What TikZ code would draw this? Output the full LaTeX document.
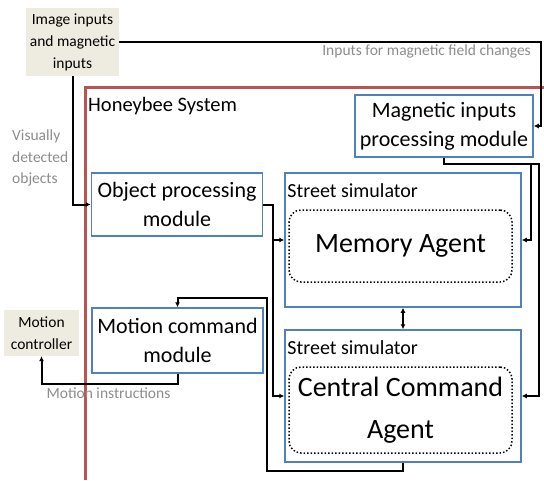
\documentclass[tikz,border=0pt]{standalone}
\usepackage{fontspec}
\setmainfont{Carlito}
\usepackage{tikz}
\usetikzlibrary{arrows.meta}
\definecolor{boxblue}{RGB}{79,129,189}
\definecolor{framered}{RGB}{185,84,82}
\definecolor{beige}{RGB}{238,236,225}
\definecolor{labelgray}{RGB}{140,140,140}

\begin{document}
\begin{tikzpicture}[x=1pt,y=-1pt,>={Latex[length=5pt,width=5pt]},
module/.style={draw=boxblue, line width=1.5pt, fill=white, align=center, inner sep=0pt, font=\fontsize{22}{29}\selectfont},
extern/.style={fill=beige, align=center, inner sep=0pt, font=\fontsize{15.5}{22}\selectfont},
agent/.style={draw, dotted, line width=1.5pt, rounded corners=12pt, align=center, inner sep=0pt, font=\fontsize{28}{42}\selectfont},
simlabel/.style={anchor=base west, inner sep=0pt, font=\fontsize{20}{20}\selectfont},
note/.style={text=labelgray, inner sep=0pt, font=\fontsize{15.5}{21.5}\selectfont},
conn/.style={line width=2pt, ->},
frame/.style={draw=framered, line width=3pt}]
\useasboundingbox (0,0) rectangle (544,480);

\draw[frame] (85,480) -- (85,87) -- (544,87);
\node[anchor=base west, inner sep=0pt, font=\fontsize{20.5}{20.5}\selectfont] (system) at (88,111) {Honeybee System};

\node[extern, minimum width=93pt, minimum height=68pt] (src) at (72.5,42) {Image inputs\\and magnetic\\inputs};
\node[extern, minimum width=75pt, minimum height=46pt] (ctrl) at (41.5,333) {Motion\\controller};

\node[module, minimum width=171pt, minimum height=63pt] (objproc) at (177,204.5) {Object processing\\module};
\node[module, minimum width=178pt, minimum height=62pt] (magproc) at (444,126) {Magnetic inputs\\processing module};
\node[module, minimum width=171pt, minimum height=65pt] (motion) at (177.5,340.5) {Motion command\\module};

\node[module, minimum width=236pt, minimum height=134pt] (memsim) at (403,240) {};
\node[simlabel] (memlbl) at ([xshift=3pt,yshift=-25pt]memsim.north west) {Street simulator};
\node[agent, minimum width=223pt, minimum height=72pt] (memory) at (400.5,246) {Memory Agent};

\node[module, minimum width=236pt, minimum height=132pt] (cmdsim) at (403,396) {};
\node[simlabel] (cmdlbl) at ([xshift=3pt,yshift=-25pt]cmdsim.north west) {Street simulator};
\node[agent, minimum width=223pt, minimum height=86pt] (central) at (400.5,410) {Central Command\\Agent};

\coordinate (loopback) at (267,298);

\draw[conn] (src.east) -- ++(422,0) |- (magproc.east);
\draw[conn] (src.south) |- (objproc.west);
\draw[conn] (objproc.east) -- ++(10,0) |- (memsim.west);
\draw[conn] (objproc.east) -- ++(10,0) |- (cmdsim.west);
\draw[conn] (magproc.south) -- ++(0,6) -| ([xshift=9pt]memsim.east) -- (memsim.east);
\draw[conn] (magproc.south) -- ++(0,6) -| ([xshift=17pt]cmdsim.east) -- (cmdsim.east);
\draw[conn, <->] (memsim.south) -- (cmdsim.north);
\draw[conn] (cmdsim.south) -- ++(0,8) -| (loopback) -| (motion.north);
\draw[conn] (motion.south) -- ++(0,10) -| (ctrl.south);

\node[note, anchor=east] (maglbl) at (531,51) {Inputs for magnetic field changes};
\node[note, anchor=west, align=left] (vislbl) at (12,158) {Visually\\detected\\objects};
\node[note] (motlbl) at (108.5,393) {Motion instructions};
\end{tikzpicture}
\end{document}
